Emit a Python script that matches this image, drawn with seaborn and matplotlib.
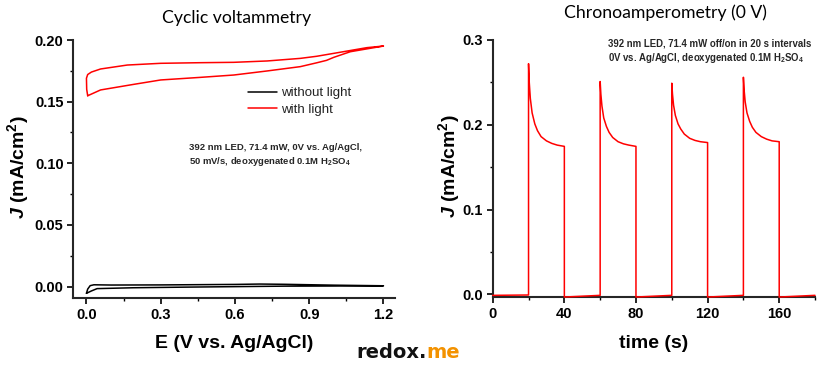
import numpy as np
import pandas as pd
import matplotlib
matplotlib.use("Agg")
import matplotlib.pyplot as plt
from matplotlib.ticker import MultipleLocator, FormatStrFormatter
import seaborn as sns

# cyclic voltammetry, with light (closed loop: forward then reverse scan)
cv_e_light = [0.005, 0.057, 0.19, 0.30, 0.46, 0.595, 0.73, 0.864, 0.93, 0.97, 1.0, 1.066, 1.2,
              1.133, 1.0, 0.93, 0.864, 0.73, 0.595, 0.46, 0.30, 0.165, 0.057, 0.02, 0.005, 0.0, 0.001, 0.005]
cv_j_light = [0.1548, 0.1595, 0.1640, 0.1676, 0.1697, 0.1716, 0.1749, 0.1784, 0.1815, 0.1835, 0.1860, 0.1905, 0.1951,
              0.1938, 0.1892, 0.1868, 0.1851, 0.1830, 0.1819, 0.1816, 0.1811, 0.1797, 0.1765, 0.1740, 0.1720, 0.1690, 0.1600, 0.1548]

# cyclic voltammetry, without light
cv_e_dark = [0.0, 0.02, 0.043, 0.19, 0.4, 0.6, 0.8, 1.0, 1.2, 1.0, 0.8, 0.7, 0.6, 0.3, 0.1, 0.03, 0.015, 0.005, 0.0]
cv_j_dark = [-0.0054, -0.0035, -0.0016, -0.0009, -0.0004, 0.0, 0.0004, 0.0005, 0.0007,
             0.0012, 0.0019, 0.0021, 0.0018, 0.0014, 0.0013, 0.0015, 0.0008, -0.002, -0.0054]

# chronoamperometry, light off/on every 20 s
ca_time = [0, 20,
           20, 20.4, 21, 22, 23.5, 25, 27, 30, 33, 36, 40,
           40, 60,
           60, 60.4, 61, 62, 63.5, 65, 67, 70, 73, 76, 80,
           80, 100,
           100, 100.4, 101, 102, 103.5, 105, 107, 110, 113, 116, 120,
           120, 140,
           140, 140.4, 141, 142, 143.5, 145, 147, 150, 153, 156, 160,
           160, 180]
ca_j = [-0.0012, -0.0008,
        0.272, 0.250, 0.231, 0.214, 0.201, 0.193, 0.186, 0.181, 0.178, 0.176, 0.1745,
        -0.0032, -0.0012,
        0.251, 0.236, 0.222, 0.208, 0.198, 0.191, 0.185, 0.180, 0.1775, 0.176, 0.1745,
        -0.0032, -0.0012,
        0.249, 0.236, 0.223, 0.211, 0.201, 0.195, 0.189, 0.184, 0.1815, 0.180, 0.179,
        -0.0032, -0.0012,
        0.256, 0.241, 0.227, 0.214, 0.204, 0.197, 0.191, 0.186, 0.183, 0.181, 0.180,
        -0.0032, -0.0012]

RED = "#FF0000"

sns.set_style("ticks")
plt.rcParams["font.family"] = ["Liberation Sans", "DejaVu Sans"]
plt.rcParams["mathtext.fontset"] = "custom"
plt.rcParams["mathtext.rm"] = "Liberation Sans:bold"
plt.rcParams["mathtext.bf"] = "Liberation Sans:bold"
plt.rcParams["mathtext.it"] = "Liberation Sans:italic:bold"
plt.rcParams["axes.linewidth"] = 1.5
plt.rcParams["xtick.major.width"] = 1.2
plt.rcParams["ytick.major.width"] = 1.2
plt.rcParams["xtick.minor.width"] = 1.0
plt.rcParams["ytick.minor.width"] = 1.0
plt.rcParams["xtick.major.size"] = 4
plt.rcParams["ytick.major.size"] = 4
plt.rcParams["xtick.minor.size"] = 2.5
plt.rcParams["ytick.minor.size"] = 2.5

fig = plt.figure(figsize=(8.23, 3.65), dpi=100)
ax1 = fig.add_axes([0.0891, 0.1836, 0.391, 0.7068])
ax2 = fig.add_axes([0.5987, 0.1855, 0.3916, 0.705])

dark = pd.DataFrame({"E": cv_e_dark, "J": cv_j_dark})
light = pd.DataFrame({"E": cv_e_light, "J": cv_j_light})
sns.lineplot(data=dark, x="E", y="J", sort=False, estimator=None, color="black", lw=1.1,
             label="without light", ax=ax1, zorder=3)
sns.lineplot(data=light, x="E", y="J", sort=False, estimator=None, color=RED, lw=1.1,
             label="with light", ax=ax1, zorder=3)

ca = pd.DataFrame({"t": ca_time, "J": ca_j})
sns.lineplot(data=ca, x="t", y="J", sort=False, estimator=None, color=RED, lw=1.1, ax=ax2,
             zorder=3, clip_on=False)

ax1.set_xlim(-0.053, 1.247)
ax1.set_ylim(-0.0092, 0.2)
ax1.xaxis.set_major_locator(MultipleLocator(0.3))
ax1.xaxis.set_minor_locator(MultipleLocator(0.15))
ax1.yaxis.set_major_locator(MultipleLocator(0.05))
ax1.yaxis.set_minor_locator(MultipleLocator(0.025))
ax1.xaxis.set_major_formatter(FormatStrFormatter("%.1f"))
ax1.yaxis.set_major_formatter(FormatStrFormatter("%.2f"))

ax2.set_xlim(0, 180)
ax2.set_ylim(-0.0035, 0.3)
ax2.xaxis.set_major_locator(MultipleLocator(40))
ax2.xaxis.set_minor_locator(MultipleLocator(20))
ax2.yaxis.set_major_locator(MultipleLocator(0.1))
ax2.yaxis.set_minor_locator(MultipleLocator(0.05))
ax2.yaxis.set_major_formatter(FormatStrFormatter("%.1f"))

ylabel = r"$J$ (mA/cm$^2$)"
for ax, xlabel, ycoord in [(ax1, "E (V vs. Ag/AgCl)", -0.172), (ax2, "time (s)", -0.136)]:
    sns.despine(ax=ax)
    ax.tick_params(which="both", direction="out", color="black", pad=3)
    for lab in ax.get_xticklabels() + ax.get_yticklabels():
        lab.set_fontweight("bold")
        lab.set_fontsize(10.5)
        lab.set_color("black")
    ax.set_xlabel(xlabel, fontsize=14, fontweight="bold", color="black")
    ax.set_ylabel(ylabel, fontsize=14, fontweight="bold", color="black")
    ax.xaxis.label.set_va("center")
    ax.yaxis.label.set_va("center")
    ax.xaxis.set_label_coords(0.5, -0.178)
    ax.yaxis.set_label_coords(ycoord, 0.508)

leg = ax1.legend(loc="upper left", bbox_to_anchor=(0.521, 0.843), frameon=False, borderpad=0,
                 handlelength=2.2, handletextpad=0.35, labelspacing=0.3, fontsize=9.5)
for t in leg.get_texts():
    t.set_color("#222222")

ax1.text(0.36, 0.552, "392 nm LED, 71.4 mW, 0V vs. Ag/AgCl,\n50 mV/s, deoxygenated 0.1M H$_2$SO$_4$",
         transform=ax1.transAxes, fontsize=6.8, fontweight="bold", ha="left", va="center", linespacing=1.3)
ax2.text(0.358, 0.955, "392 nm LED, 71.4 mW off/on in 20 s intervals\n0V vs. Ag/AgCl, deoxygenated 0.1M H$_2$SO$_4$",
         transform=ax2.transAxes, fontsize=6.9, fontweight="bold", ha="left", va="center", linespacing=1.3)

fig.text(0.288, 0.951, "Cyclic voltammetry", family=["Lato", "DejaVu Sans"], fontsize=12.7,
         ha="center", va="center", color="black")
fig.text(0.8086, 0.964, "Chronoamperometry (0 V)", family=["Lato", "DejaVu Sans"], fontsize=12.7,
         ha="center", va="center", color="black")

# logo: "redox." in black followed by "me" in orange
logo_y = 1 - 352 / 365
part1 = fig.text(356 / 823, logo_y, "redox.", family=["DejaVu Sans"], fontweight="bold",
                 fontsize=14, ha="left", va="center", color="#111111")
bb = part1.get_window_extent(renderer=fig.canvas.get_renderer())
fig.text(bb.x1 / fig.bbox.width, logo_y, "me", family=["DejaVu Sans"], fontweight="bold",
         fontsize=14, ha="left", va="center", color="#F39200")

fig.savefig("out.png", dpi=100)
